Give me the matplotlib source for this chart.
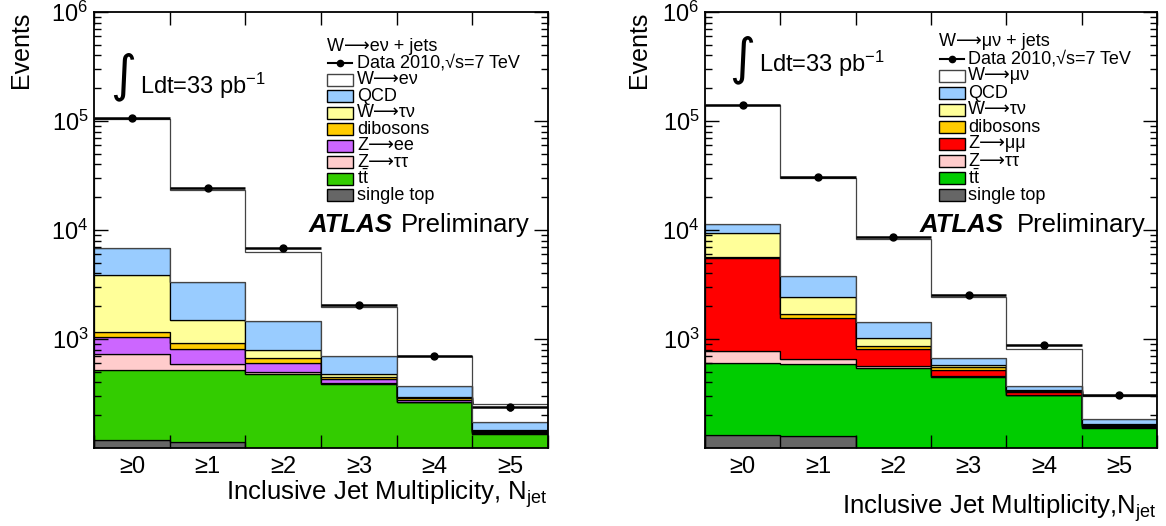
import numpy as np
import matplotlib
matplotlib.use("Agg")
import matplotlib.pyplot as plt
from matplotlib.patches import Rectangle
from matplotlib.lines import Line2D

plt.rcParams['font.family'] = ['Liberation Sans', 'DejaVu Sans']
plt.rcParams['mathtext.fontset'] = 'custom'
plt.rcParams['mathtext.rm'] = 'Liberation Sans'
plt.rcParams['mathtext.it'] = 'Liberation Sans:italic'
plt.rcParams['mathtext.bf'] = 'Liberation Sans:bold'

W, H = 1166, 526

tick_labels = ['≥0', '≥1', '≥2', '≥3', '≥4', '≥5']
edges = np.arange(7)
centers = edges[:-1] + 0.5

# W->e nu channel
e_data = [106000, 24500, 6800, 2040, 705, 236]
e_stop = [117, 112, 70, 40, 20, 8]
e_ttbar = [405, 408, 408, 345, 241, 126]
e_ztautau = [202, 66, 22, 7, 5, 2]
e_zll = [326, 223, 99, 35, 10, 4]
e_dib = [120, 109, 66, 24, 10, 3]
e_wtau = [2690, 572, 122, 23, 8, 3]
e_qcd = [3040, 1820, 663, 229, 77, 27]
e_sig = [98100, 19990, 4850, 1277, 329, 77]

# W->mu nu channel
m_data = [141000, 30800, 8570, 2550, 875, 304]
m_stop = [132, 129, 70, 40, 20, 8]
m_ttbar = [467, 461, 476, 411, 284, 144]
m_ztautau = [177, 66, 23, 6, 4, 2]
m_zll = [4724, 914, 235, 63, 19, 4]
m_dib = [110, 110, 59, 30, 6, 2]
m_wtau = [3770, 760, 167, 27, 8, 6]
m_qcd = [2020, 1370, 410, 89, 32, 17]
m_sig = [128600, 26390, 6830, 1744, 442, 117]

c_sig = 'white'
c_qcd = '#99ccff'
c_wtau = '#ffff99'
c_dib = '#ffcc00'
c_zee = '#cc66ff'
c_zmm = '#ff0000'
c_ztt = '#ffcccc'
c_stop = '#666666'

fig = plt.figure(figsize=(W / 100, H / 100), dpi=100)


def fx(x):
    return x / W


def fy(y):
    return 1 - y / H


def panel(rect, comps, colors, data):
    ax = fig.add_axes(rect)
    base = np.ones(6)
    for vals, col in zip(comps, colors):
        top = base + np.array(vals, float)
        ec = '#444444' if col == 'white' else 'black'
        ax.stairs(top, edges, baseline=base, fill=True, facecolor=col,
                  edgecolor=ec, linewidth=0.9)
        base = top
    d = np.array(data, float)
    ax.errorbar(centers, d, xerr=0.5, yerr=np.sqrt(d), fmt='o', color='k',
                ms=5, lw=1.8, capsize=0, zorder=5)
    ax.set_xlim(0, 6)
    ax.set_yscale('log')
    ax.set_ylim(100, 1e6)
    ax.set_xticks(edges, labels=[''] * 7)
    ax.set_xticks(centers, labels=tick_labels, minor=True)
    ax.tick_params(axis='x', which='major', direction='in', length=9.5,
                   width=1, top=True, bottom=True)
    ax.tick_params(axis='x', which='minor', length=0, labelsize=17, pad=6)
    ax.set_yticks([1e3, 1e4, 1e5, 1e6])
    ax.tick_params(axis='y', which='major', direction='in', length=10,
                   width=1, left=True, right=True, labelsize=17, pad=4)
    ax.tick_params(axis='y', which='minor', direction='in', length=5,
                   width=1, left=True, right=True)
    for s in ax.spines.values():
        s.set_linewidth(1.3)
    return ax


def legend(x_box, x_txt, y0, dy, header, labels, colors):
    fig.text(fx(x_box), fy(y0), header, ha='left', va='center', fontsize=13)
    y = y0 + dy
    fig.add_artist(Line2D([fx(x_box + 1), fx(x_box + 25)], [fy(y), fy(y)],
                          color='k', lw=1.5))
    fig.add_artist(Line2D([fx(x_box + 13)], [fy(y)], color='k', marker='o', ms=4.5))
    fig.text(fx(x_txt), fy(y), 'Data 2010,√s=7 TeV', ha='left', va='center', fontsize=13)
    for i, (lab, col) in enumerate(zip(labels, colors)):
        y = y0 + dy * (i + 2)
        ec = '#444444' if col == 'white' else 'black'
        fig.add_artist(Rectangle((fx(x_box), fy(y + 6)), fx(26), 12 / H,
                                 transform=fig.transFigure, facecolor=col,
                                 edgecolor=ec, lw=1))
        fig.text(fx(x_txt), fy(y), lab, ha='left', va='center', fontsize=13)


# left panel: electrons
ax1 = panel([fx(94), fy(448), 454 / W, 436 / H],
            [e_stop, e_ttbar, e_ztautau, e_zll, e_dib, e_wtau, e_qcd, e_sig],
            [c_stop, '#33cc00', c_ztt, c_zee, c_dib, c_wtau, c_qcd, c_sig], e_data)
# right panel: muons
ax2 = panel([fx(705), fy(448), 452 / W, 436 / H],
            [m_stop, m_ttbar, m_ztautau, m_zll, m_dib, m_wtau, m_qcd, m_sig],
            [c_stop, '#00cc00', c_ztt, c_zmm, c_dib, c_wtau, c_qcd, c_sig], m_data)

for xe in (21, 639):
    fig.text(fx(xe), fy(12), 'Events', rotation=90, ha='center', va='top', fontsize=18)

fig.text(fx(548), fy(500), r'Inclusive Jet Multiplicity, N$_{\mathrm{jet}}$',
         ha='right', va='baseline', fontsize=18.5)
fig.text(fx(1157), fy(514), r'Inclusive Jet Multiplicity,N$_{\mathrm{jet}}$',
         ha='right', va='baseline', fontsize=18.5)

# luminosity
fig.text(fx(136), fy(77), '∫', ha='right', va='center', fontsize=36, family='DejaVu Sans')
fig.text(fx(140), fy(94), r'Ldt=33 pb$^{\mathrm{-1}}$', ha='left', va='baseline', fontsize=17)
fig.text(fx(755), fy(60), '∫', ha='right', va='center', fontsize=36, family='DejaVu Sans')
fig.text(fx(759), fy(72), r'Ldt=33 pb$^{\mathrm{-1}}$', ha='left', va='baseline', fontsize=17)

# ATLAS label
fig.text(fx(309), fy(232), 'ATLAS', ha='left', va='baseline', fontsize=18.5,
         weight='bold', style='italic')
fig.text(fx(401), fy(232), 'Preliminary', ha='left', va='baseline', fontsize=18.5)
fig.text(fx(920), fy(232), 'ATLAS', ha='left', va='baseline', fontsize=18.5,
         weight='bold', style='italic')
fig.text(fx(1017), fy(232), 'Preliminary', ha='left', va='baseline', fontsize=18.5)

tt = r't$\bar{\mathrm{t}}$'
legend(327, 357, 46.7, 16.5, 'W⟶eν + jets',
       ['W⟶eν', 'QCD', 'W⟶τν', 'dibosons', 'Z⟶ee', 'Z⟶ττ', tt, 'single top'],
       [c_sig, c_qcd, c_wtau, c_dib, c_zee, c_ztt, '#33cc00', c_stop])
legend(939, 968, 42, 17, 'W⟶μν + jets',
       ['W⟶μν', 'QCD', 'W⟶τν', 'dibosons', 'Z⟶μμ', 'Z⟶ττ', tt, 'single top'],
       [c_sig, c_qcd, c_wtau, c_dib, c_zmm, c_ztt, '#00cc00', c_stop])

fig.savefig('out.png', dpi=100)
